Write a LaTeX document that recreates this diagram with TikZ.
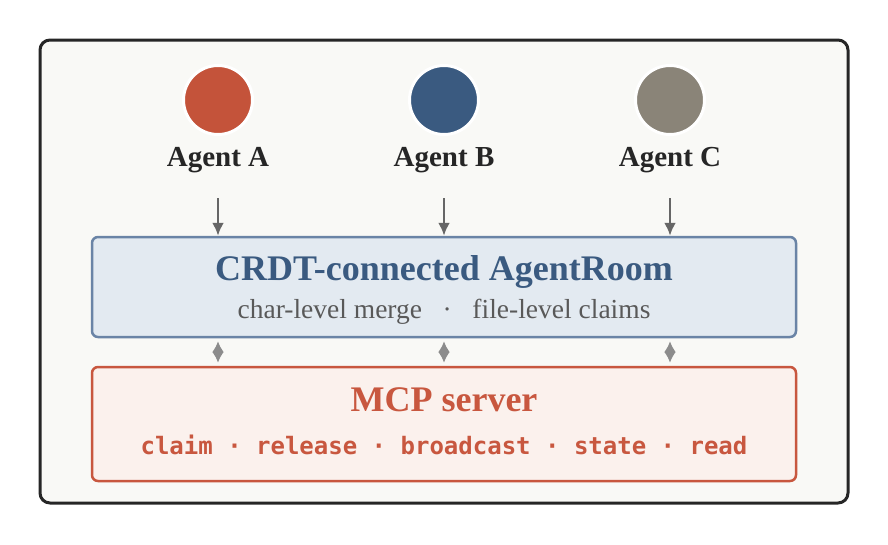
\documentclass[tikz,border=0pt]{standalone}
\usepackage{fontspec}
\setmainfont{Liberation Serif}
\newfontfamily\codefont{DejaVu Sans Mono}
\usetikzlibrary{positioning, arrows.meta}
\definecolor{panel}{HTML}{F9F9F6}
\definecolor{agred}{HTML}{C4533A}
\definecolor{agblue}{HTML}{3A5A80}
\definecolor{aggray}{HTML}{8A8478}
\definecolor{roomfill}{HTML}{E3EAF1}
\definecolor{roomline}{HTML}{6A84A6}
\definecolor{mcpfill}{HTML}{FBF1ED}
\definecolor{mcpline}{HTML}{C8573F}
\tikzset{
    agent/.style = {circle, draw=white, line width=3pt, minimum size=69pt, inner sep=0pt},
    agentlabel/.style = {font=\fontsize{29}{34}\selectfont\bfseries, text=black!85},
    box/.style = {rounded corners=6pt, line width=2.5pt, minimum width=704pt, align=center},
    line/.style = {-{Latex[length=13pt,width=12pt]}, draw=black!60, line width=2.5pt},
    both/.style = {{Latex[length=11pt,width=12pt]}-{Latex[length=11pt,width=12pt]}, draw=black!45, line width=2.5pt}
}
\begin{document}
\begin{tikzpicture}[x=1pt, y=-1pt]

                        \useasboundingbox (0,0) rectangle (888,544);
                        \draw[fill=panel, draw=black!85, line width=3pt, rounded corners=10pt] (40,40) rectangle (848,503);

                        % Agents
                        \node[agent, fill=agred] (agA) at (218,100) {};
                        \node[agent, fill=agblue] (agB) at (444,100) {};
                        \node[agent, fill=aggray] (agC) at (670,100) {};
                        \node[agentlabel] (labA) at (218,160) {Agent A};
                        \node[agentlabel] (labB) at (444,160) {Agent B};
                        \node[agentlabel] (labC) at (670,160) {Agent C};

                        % Room
                        \node[box, draw=roomline, fill=roomfill, minimum height=100pt] (room) at (444,287) {};
                        \node[font=\fontsize{36}{40}\selectfont\bfseries, text=agblue] (roomtitle) at (444,272) {CRDT-connected AgentRoom};
                        \node[font=\fontsize{27.5}{32}\selectfont, text=black!65] (roomsub) at (444,312) {char-level merge~~~·~~~file-level claims};

                        % MCP server
                        \node[box, draw=mcpline, fill=mcpfill, minimum height=114pt] (mcp) at (444,424) {};
                        \node[font=\fontsize{36}{40}\selectfont\bfseries, text=mcpline] (mcptitle) at (444,400) {MCP server};
                        \node[font=\fontsize{24}{30}\codefont\bfseries, text=mcpline] (mcpsub) at (444,445) {claim · release · broadcast · state · read};

                        % Lines
                        \foreach \a in {A,B,C}{
                            \draw[line] ([yshift=-22pt]lab\a.south) -- (lab\a.south |- room.north);
                            \draw[both] ([yshift=-3pt]lab\a.south |- room.south) -- ([yshift=3pt]lab\a.south |- mcp.north);
                        }

                    \end{tikzpicture}
\end{document}
